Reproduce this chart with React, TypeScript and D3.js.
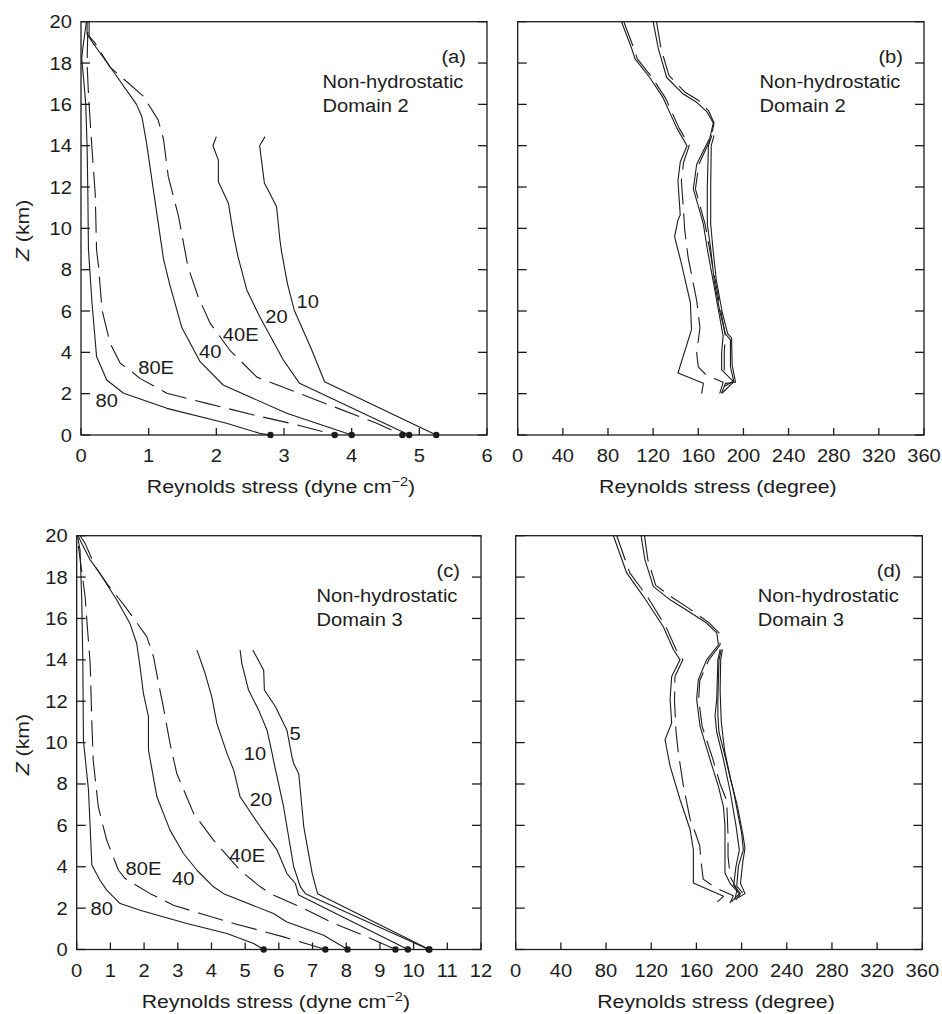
import React from "react";
import * as d3 from "d3";

// ---------- DATA ----------
// Panel (a): Reynolds stress magnitude (dyne cm^-2) vs Z (km), Domain 2
const A_10 = [[2.72,14.44],[2.64,14.0],[2.71,12.2],[2.79,11.7],[2.89,11.05],[2.94,9.44],[2.96,8.95],[3.05,7.34],[3.15,6.05],[3.41,4.11],[3.6,2.58],[5.25,0]];
const A_20 = [[2.0,14.44],[1.95,14.0],[2.03,13.3],[2.03,12.26],[2.18,11.2],[2.25,9.76],[2.32,8.63],[2.45,7.02],[2.64,5.73],[2.99,3.63],[3.23,2.5],[4.85,0]];
const A_40 = [[0.09,20],[0.09,19.4],[0.17,19.0],[0.28,18.5],[0.53,17.35],[0.82,16.0],[0.9,15.4],[0.97,14.1],[1.09,11.4],[1.22,8.5],[1.31,7.3],[1.49,5.2],[1.76,3.55],[2.1,2.42],[3.04,1.05],[4.0,0]];
const A_40E = [[0.12,20],[0.12,19.3],[0.2,19.0],[0.43,17.8],[0.92,16.4],[1.14,15.25],[1.22,14.3],[1.29,12.5],[1.44,10.6],[1.56,8.5],[1.58,8.15],[1.73,6.7],[1.91,5.4],[2.2,4.1],[2.6,2.8],[4.37,0.57],[4.75,0]];
const A_80 = [[0.08,20],[0.03,18.8],[0.01,18.2],[0.04,17.2],[0.07,16],[0.09,14],[0.1,12],[0.11,9],[0.16,6.5],[0.23,3.8],[0.38,2.66],[0.63,2.02],[1.27,1.29],[2.15,0.57],[2.64,0.08],[2.8,0]];
const A_80E = [[0.1,19.5],[0.09,18],[0.11,16.5],[0.16,13.95],[0.21,11.7],[0.23,8.95],[0.26,8.15],[0.31,6.05],[0.43,4.44],[0.58,3.47],[0.72,3.15],[0.87,2.74],[1.27,2.02],[1.86,1.53],[2.55,0.97],[3.09,0.57],[3.68,0.08],[3.75,0]];

// Panel (b): Reynolds stress direction (degree) vs Z (km), Domain 2
const B_10 = [[174,14.5],[171.5,14],[171,12],[171,10.2],[173,9],[176,7.5],[181,6],[186,4.9],[189.5,4.7],[190,3.4],[193,2.55],[184,2.5],[180.7,2.02]];
const B_20 = [[172,14.5],[169,14],[168,12],[168,10.2],[171,9],[174,7.5],[179,6],[184,4.9],[188.5,4.6],[188.5,3.3],[191.5,2.58],[181,2.02]];
const B_40 = [[120,20],[124.6,18.7],[132,17.3],[146.7,16.5],[158.6,16.1],[167.5,15.65],[173.3,15.1],[170.4,14.4],[158.6,13.1],[155.6,11.9],[161.5,10.8],[164.5,10.2],[168,9],[173,7.5],[178,6],[182,4.8],[180.7,4.0],[180.7,3.15],[191,2.6],[183,2.35]];
const B_40E = [[123,20],[127,18.7],[134,17.4],[148,16.6],[160,16.2],[169,15.7],[174,15.1],[171.5,14.4],[160.5,13.1],[157.5,11.9],[163,10.8],[166,10.2],[170,9],[175,7.5],[180,6],[184,4.8],[183,4.0],[183,3.1],[188,2.8]];
const B_80 = [[92,20],[101,18.7],[104,18.2],[117,17.3],[129,16.3],[141,14.85],[150,14.0],[144,13.2],[142,12.3],[144,10.65],[142,10.4],[139,9.6],[145,8.3],[153,6.4],[154,5.1],[142,3.0],[164.5,2.5],[163,2.0]];
const B_80E = [[94,20],[103,18.7],[106,18.2],[119,17.3],[131,16.3],[143,14.85],[152,14.0],[147,13.2],[145,12.3],[147,10.8],[148,9.9],[151,8.6],[158.6,6.5],[161.5,5.2],[158.6,3.95],[160,3.3],[167,2.9],[182,2.55],[179,2.0]];

// Panel (c): Reynolds stress magnitude, Domain 3
const C_5 = [[5.23,14.47],[5.55,13.5],[5.57,12.54],[5.9,11.73],[6.24,10.6],[6.39,9.31],[6.44,8.99],[6.59,8.5],[6.74,5.93],[6.99,3.67],[7.15,2.7],[10.47,0]];
const C_10 = [[4.85,14.47],[4.9,13.83],[5.1,12.54],[5.4,11.57],[5.65,10.6],[5.8,9.48],[5.84,9.15],[6.14,6.9],[6.44,4.0],[6.64,3.03],[6.79,2.7],[10.45,0]];
const C_20 = [[3.57,14.47],[3.81,13.35],[4.01,12.21],[4.16,10.93],[4.46,9.48],[4.66,8.67],[4.85,7.38],[5.45,5.93],[5.95,4.8],[6.24,3.67],[6.49,3.19],[6.59,2.63],[9.83,0]];
const C_40 = [[0.05,19.95],[0.4,18.83],[0.69,18.18],[1.19,16.89],[1.58,15.76],[1.78,14.8],[1.88,13.67],[1.98,12.38],[2.13,11.25],[2.13,9.64],[2.38,7.38],[2.77,5.77],[3.17,4.64],[3.57,3.83],[4.06,3.03],[4.36,2.7],[5.84,1.74],[6.24,1.33],[7.33,0.69],[8.04,0]];
const C_40E = [[0.1,20],[0.25,19.63],[0.55,18.5],[0.89,17.7],[1.44,16.57],[2.08,15.12],[2.28,14.15],[2.43,12.86],[2.57,11.73],[2.77,9.96],[2.97,8.51],[3.47,6.58],[4.06,5.29],[4.85,3.83],[5.45,3.03],[5.75,2.7],[6.64,2.06],[7.63,1.26],[8.62,0.61],[9.46,0]];
const C_80 = [[0.02,20],[0.1,19.3],[0.15,16.9],[0.18,14.1],[0.2,10.1],[0.35,7.7],[0.45,4.08],[0.69,3.35],[0.89,2.87],[1.29,2.22],[1.88,1.9],[3.27,1.26],[4.46,0.77],[5.25,0.29],[5.55,0]];
const C_80E = [[0.05,19.5],[0.25,17.05],[0.32,15.5],[0.4,13.83],[0.45,10.93],[0.49,9.15],[0.64,6.9],[0.89,5.29],[1.24,3.83],[1.44,3.43],[2.18,2.7],[2.87,2.14],[3.67,1.74],[4.66,1.26],[6.14,0.61],[7.38,0]];

// Panel (d): Reynolds stress direction, Domain 3
const D_5 = [[183,14.5],[181.5,14],[181,12.5],[182,11],[185,9.6],[190,8.3],[196,7.0],[201,5.6],[203,4.9],[201,4.2],[199,3.2],[203,2.7],[197,2.5]];
const D_10 = [[182,14.5],[180,14],[179,12.1],[179,11.3],[180,10.5],[186,9.2],[193,7.6],[200,5.64],[201.6,4.83],[197.2,4.03],[195.7,3.06],[201,2.74]];
const D_20 = [[181,14.5],[179,14],[178,12.1],[176.5,11.3],[178,10.5],[183.9,9.2],[190,7.6],[195,6],[198,4.8],[195,4],[193,3.1],[199,2.7],[195,2.4]];
const D_40 = [[111,20],[114.4,18.84],[121.8,17.55],[136.7,16.9],[151.5,16.4],[169,15.78],[178,15.3],[179.5,14.73],[169,14.0],[161.7,13.04],[160.2,12.1],[163.2,10.8],[172,9.2],[179.4,7.9],[183.9,6.9],[185.3,6.0],[185.3,4.8],[185.3,3.7],[189.8,3.2],[198,2.7],[191,2.3]];
const D_40E = [[114,20],[117,18.84],[124,17.6],[139,17.0],[153,16.5],[171,15.8],[180,15.3],[181,14.73],[171,14.0],[163,13.0],[162,12.1],[165,10.8],[174,9.3],[181,8],[186.8,7.2],[188,5.5],[188,4.5],[190,3.5],[196,2.9],[194,2.4]];
const D_80 = [[86.5,20],[98.3,18.2],[113,17.07],[130.7,15.6],[139.6,14.5],[145.5,14.0],[138.1,13.2],[136.7,12.1],[138.1,10.95],[132.2,10.14],[136.7,8.86],[145.5,7.25],[154.4,5.8],[157.3,4.83],[157.3,3.22],[184,2.57],[178.5,2.3]];
const D_80E = [[89.5,20],[101,18.2],[116,17.1],[133,15.6],[142,14.5],[148,14.0],[141,13.2],[140.6,12],[142,10.5],[144,9.5],[148.5,7.9],[154.4,6.3],[160,5.5],[163,5.0],[164,4.3],[166,3.4],[176.5,3.0],[192.7,2.6],[189.8,2.25]];

// Series labels (text, value, z)
const A_LABELS = [["10",3.35,6.45],["20",2.89,5.73],["40E",2.36,4.84],["40",1.91,4.03],["80E",1.11,3.28],["80",0.38,1.66]];
const C_LABELS = [["5",6.48,10.45],["10",5.29,9.48],["20",5.47,7.25],["40E",5.06,4.56],["40",3.16,3.43],["80E",1.98,3.92],["80",0.74,1.98]];

// Ticks
const Z_TICKS = [0,2,4,6,8,10,12,14,16,18,20];
const A_XTICKS = [0,1,2,3,4,5,6];
const C_XTICKS = [0,1,2,3,4,5,6,7,8,9,10,11,12];
const DEG_TICKS = [0,40,80,120,160,200,240,280,320,360];

// ---------- RENDER ----------
const FONT = "'Liberation Sans', Arial, Helvetica, sans-serif";
const INK = "#1c1c1c";

function T({ x, y, sx = 1.08, anchor = "middle", size = 19, rotate = 0, italic = false, children }: any) {
  return (
    <text
      transform={`translate(${x},${y})${rotate ? ` rotate(${rotate})` : ""} scale(${sx},1)`}
      textAnchor={anchor}
      fontSize={size}
      fontFamily={FONT}
      fontStyle={italic ? "italic" : "normal"}
      fill={INK}
    >
      {children}
    </text>
  );
}

function Panel({ box, xMax, xTicks, series, labels, showY, tag, domain, xlabel, dots }: any) {
  const [l, r, t, b] = box;
  const xs = d3.scaleLinear().domain([0, xMax]).range([l, r]);
  const ys = d3.scaleLinear().domain([0, 20]).range([b, t]);
  const line = d3.line<number[]>().x((d) => xs(d[0])).y((d) => ys(d[1]));
  const tickBase = b + 27;
  const labBase = b + 58;
  return (
    <g>
      {series.map((s: any, i: number) => (
        <path key={i} d={line(s.data) || ""} fill="none" stroke={INK} strokeWidth={1.1}
          strokeDasharray={s.dashed ? "26 9" : undefined} strokeLinejoin="round" />
      ))}
      {dots && series.map((s: any, i: number) => {
        const last = s.data[s.data.length - 1];
        return <circle key={"d" + i} cx={xs(last[0])} cy={ys(last[1])} r={3.2} fill={INK} />;
      })}
      <rect x={l} y={t} width={r - l} height={b - t} fill="none" stroke={INK} strokeWidth={1.3} />
      {Z_TICKS.map((z) => (
        <g key={"z" + z}>
          <line x1={l} x2={l + 9} y1={ys(z)} y2={ys(z)} stroke={INK} strokeWidth={1.3} />
          <line x1={r} x2={r - 9} y1={ys(z)} y2={ys(z)} stroke={INK} strokeWidth={1.3} />
          {showY && <T x={l - 9} y={ys(z) + 6.5} anchor="end" sx={1.06}>{z}</T>}
        </g>
      ))}
      {xTicks.map((v: number) => (
        <g key={"x" + v}>
          <line x1={xs(v)} x2={xs(v)} y1={b} y2={b - 7} stroke={INK} strokeWidth={1.3} />
          <T x={xs(v)} y={tickBase} sx={1.06}>{v}</T>
        </g>
      ))}
      {labels && labels.map((lb: any, i: number) => (
        <T key={"l" + i} x={xs(lb[1])} y={ys(lb[2]) + 6.5} sx={1.06}>{lb[0]}</T>
      ))}
      <T x={r - 21} y={t + 41} anchor="end" sx={1.06}>{tag}</T>
      <T x={r - 164.5} y={t + 66.5} anchor="start" sx={1.06}>Non-hydrostatic</T>
      <T x={r - 164.5} y={t + 90.5} anchor="start" sx={1.06}>{domain}</T>
      <T x={(l + r) / 2 - 3} y={labBase} sx={1.12}>{xlabel}</T>
      {showY && (
        <T x={29} y={(t + b) / 2 + 2} rotate={-90} sx={1.12}>
          <tspan fontStyle="italic">Z</tspan> (km)
        </T>
      )}
    </g>
  );
}

const dyneLabel = (
  <>
    Reynolds stress (dyne cm<tspan dy={-7} fontSize={13}>−2</tspan><tspan dy={7}>)</tspan>
  </>
);

export default function App() {
  const aSeries = [
    { data: A_10 }, { data: A_20 }, { data: A_40 }, { data: A_40E, dashed: true },
    { data: A_80 }, { data: A_80E, dashed: true },
  ];
  const bSeries = [
    { data: B_10 }, { data: B_20 }, { data: B_40 }, { data: B_40E, dashed: true },
    { data: B_80 }, { data: B_80E, dashed: true },
  ];
  const cSeries = [
    { data: C_5 }, { data: C_10 }, { data: C_20 }, { data: C_40 }, { data: C_40E, dashed: true },
    { data: C_80 }, { data: C_80E, dashed: true },
  ];
  const dSeries = [
    { data: D_5 }, { data: D_10 }, { data: D_20 }, { data: D_40 }, { data: D_40E, dashed: true },
    { data: D_80 }, { data: D_80E, dashed: true },
  ];
  return (
    <svg width={942} height={1014} viewBox="0 0 942 1014"
      style={{ position: "absolute", left: 0, top: 0, display: "block", background: "#fff" }}>
      <rect x={0} y={0} width={942} height={1014} fill="#fff" />
      <Panel box={[81, 487, 21.7, 435]} xMax={6} xTicks={A_XTICKS} series={aSeries} labels={A_LABELS}
        showY tag="(a)" domain="Domain 2" xlabel={dyneLabel} dots />
      <Panel box={[517.7, 924, 21.7, 435]} xMax={360} xTicks={DEG_TICKS} series={bSeries}
        tag="(b)" domain="Domain 2" xlabel="Reynolds stress (degree)" />
      <Panel box={[76.7, 481, 535.7, 949.5]} xMax={12} xTicks={C_XTICKS} series={cSeries} labels={C_LABELS}
        showY tag="(c)" domain="Domain 3" xlabel={dyneLabel} dots />
      <Panel box={[515.7, 922.3, 535.7, 949.5]} xMax={360} xTicks={DEG_TICKS} series={dSeries}
        tag="(d)" domain="Domain 3" xlabel="Reynolds stress (degree)" />
    </svg>
  );
}
